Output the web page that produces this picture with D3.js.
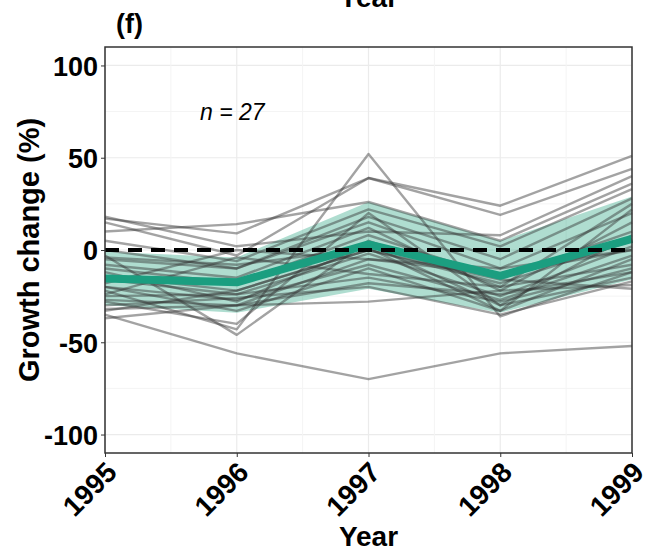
<!DOCTYPE html>
<html><head><meta charset="utf-8">
<script src="https://cdn.jsdelivr.net/npm/d3@7"></script>
<style>body{margin:0;background:#fff}svg{display:block}text{font-family:"Liberation Sans",Arial,sans-serif}</style>
</head><body><svg id="c" width="660" height="556"></svg>
<script>
const years = [1995, 1996, 1997, 1998, 1999];
const yTicks = [-100, -50, 0, 50, 100];
// individual series (growth change %, per year)
const series = [
  [-35, -56, -70, -56, -52],
  [-22, -43, 52, -36, -12],
  [17, 9, 39, 24, 51],
  [15, -3, 39, 19, 44],
  [18, 2, 10, 8, 40],
  [10, 14, 26, 5, 36],
  [5, -6, 22, 2, 33],
  [0, -10, 18, -5, 28],
  [-3, -46, 5, -20, 25],
  [-5, -10, 15, -10, 20],
  [-8, -15, 12, -22, 15],
  [-10, -18, 8, -15, 10],
  [-12, -28, 3, -30, 8],
  [-14, -22, 0, -18, 5],
  [-16, -24, -2, -25, 2],
  [-18, 0, -5, -13, 0],
  [-20, -27, -8, -27, -3],
  [-20, -33, -10, -33, -5],
  [-24, -4, -13, -20, -8],
  [-25, -24, -15, -28, -10],
  [-27, -30, -18, -24, -12],
  [-28, -40, 20, -30, -15],
  [-30, -26, -20, -35, -17],
  [-32, -30, -28, -22, -19],
  [-33, -22, 0, -16, -21],
  [-37, -30, -5, -10, 0],
  [-4, -8, 1, -33, 22]
];
const meanVals = [-15.5, -17.5, 3, -14, 6];
const lowerVals = [-30, -34, -21, -34, -16];
const upperVals = [-1, -4, 26, 5, 29];
const nLabel = "n = 27";

const svg = d3.select("#c");
const L = 105, R = 632, T = 47, B = 453;
const x = d3.scaleLinear().domain([1995, 1999]).range([L, R]);
const y = d3.scaleLinear().domain([-110, 110]).range([B, T]);

// grid
const g = svg.append("g");
const minorY = d3.range(-75, 101, 50);
g.selectAll(".gmy").data(minorY).join("line").attr("x1", L).attr("x2", R)
  .attr("y1", d => y(d)).attr("y2", d => y(d)).attr("stroke", "#f4f4f4").attr("stroke-width", 1);
g.selectAll(".gy").data(yTicks).join("line").attr("x1", L).attr("x2", R)
  .attr("y1", d => y(d)).attr("y2", d => y(d)).attr("stroke", "#ebebeb").attr("stroke-width", 1.2);
const minorX = d3.range(1995.5, 1999, 1);
g.selectAll(".gmx").data(minorX).join("line").attr("y1", T).attr("y2", B)
  .attr("x1", d => x(d)).attr("x2", d => x(d)).attr("stroke", "#f4f4f4").attr("stroke-width", 1);
g.selectAll(".gx").data(years).join("line").attr("y1", T).attr("y2", B)
  .attr("x1", d => x(d)).attr("x2", d => x(d)).attr("stroke", "#ebebeb").attr("stroke-width", 1.2);

// band
const area = d3.area().x((d, i) => x(years[i])).y0((d, i) => y(lowerVals[i])).y1((d, i) => y(upperVals[i]));
svg.append("path").datum(years).attr("d", area).attr("fill", "#1b9e77").attr("fill-opacity", 0.35);

// individual lines
const line = d3.line().x((d, i) => x(years[i])).y(d => y(d));
svg.append("g").selectAll("path").data(series).join("path")
  .attr("d", line).attr("fill", "none").attr("stroke", "#333").attr("stroke-opacity", 0.45)
  .attr("stroke-width", 2.4).attr("stroke-linejoin", "round");

// mean line
svg.append("path").datum(meanVals).attr("d", line).attr("fill", "none")
  .attr("stroke", "#1b9e80").attr("stroke-width", 8).attr("stroke-linejoin", "round");

// zero dashed
svg.append("line").attr("x1", L).attr("x2", R).attr("y1", y(0)).attr("y2", y(0))
  .attr("stroke", "#000").attr("stroke-width", 4).attr("stroke-dasharray", "14,9");

// border
svg.append("rect").attr("x", L).attr("y", T).attr("width", R - L).attr("height", B - T)
  .attr("fill", "none").attr("stroke", "#333").attr("stroke-width", 1.5);

// axes
const yAxis = d3.axisLeft(y).tickValues(yTicks).tickFormat(d => String(d)).tickSize(4).tickPadding(3);
const ya = svg.append("g").attr("transform", `translate(${L},0)`).call(yAxis);
ya.select(".domain").remove();
ya.selectAll("line").attr("stroke", "#333");
ya.selectAll("text").attr("font-size", 27).attr("font-weight", "bold").attr("fill", "#000").attr("dy", "0.36em");

const xAxis = d3.axisBottom(x).tickValues(years).tickFormat(d3.format("d")).tickSize(4);
const xa = svg.append("g").attr("transform", `translate(0,${B})`).call(xAxis);
xa.select(".domain").remove();
xa.selectAll("line").attr("stroke", "#333");
xa.selectAll("text").attr("font-size", 28).attr("font-weight", "bold").attr("fill", "#000")
  .attr("text-anchor", "end").attr("dy", null).attr("y", 0)
  .attr("transform", "translate(13,21) rotate(-45)");

// titles
svg.append("text").attr("x", (L + R) / 2).attr("y", 546).attr("text-anchor", "middle")
  .attr("font-size", 28).attr("font-weight", "bold").text("Year");
svg.append("text").attr("x", (L + R) / 2).attr("y", 7).attr("text-anchor", "middle")
  .attr("font-size", 28).attr("font-weight", "bold").text("Year");
svg.append("text").attr("transform", `translate(39,${(T + B) / 2}) rotate(-90)`).attr("text-anchor", "middle")
  .attr("font-size", 29).attr("font-weight", "bold").text("Growth change (%)");
svg.append("text").attr("x", 116).attr("y", 33).attr("font-size", 27).attr("font-weight", "bold").text("(f)");
svg.append("text").attr("x", 200).attr("y", 120).attr("font-size", 23).attr("font-style", "italic").text(nLabel);
</script></body></html>
